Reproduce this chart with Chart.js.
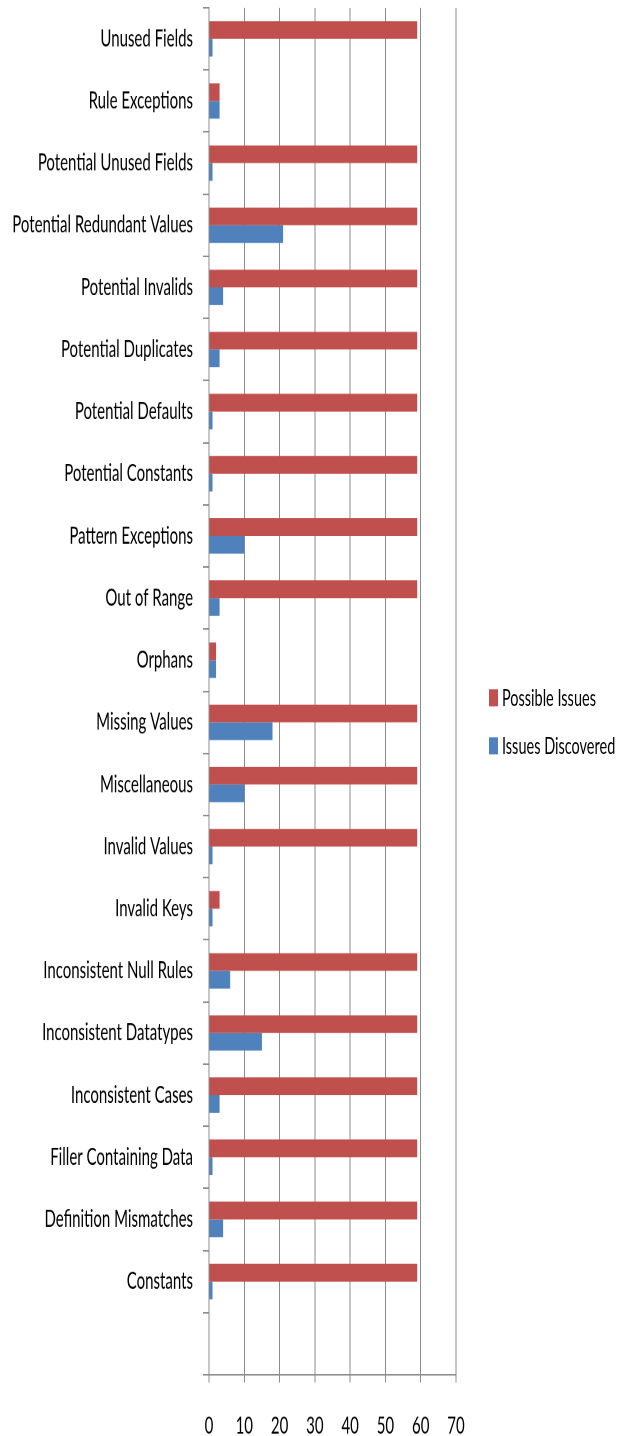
<!DOCTYPE html>
<html>
<head>
<meta charset="utf-8">
<script src="https://cdn.jsdelivr.net/npm/chart.js@4.4.1/dist/chart.umd.min.js"></script>
<style>
  html, body { margin: 0; padding: 0; background: #fff; }
  #outer { position: relative; width: 630px; height: 1436px; overflow: hidden; }
  #wrap { position: absolute; left: 0; top: 0; width: 630px; height: 927px; transform: scaleY(1.549); transform-origin: 0 0; }
  #legend { position: absolute; left: 489px; top: 440px; font-family: Lato, sans-serif; font-size: 14.5px; color: #000; }
  #legend .item { display: flex; align-items: center; height: 20px; margin-bottom: 11px; }
  #legend .box { width: 9px; height: 11px; margin-right: 4px; }
</style>
</head>
<body>
<div id="outer">
<div id="wrap">
  <canvas id="chart" width="630" height="927"></canvas>
  <div id="legend"></div>
</div>
</div>
<script>
const categories = ['Unused Fields', 'Rule Exceptions', 'Potential Unused Fields', 'Potential Redundant Values',
    'Potential Invalids', 'Potential Duplicates', 'Potential Defaults', 'Potential Constants',
    'Pattern Exceptions', 'Out of Range', 'Orphans', 'Missing Values', 'Miscellaneous',
    'Invalid Values', 'Invalid Keys', 'Inconsistent Null Rules', 'Inconsistent Datatypes',
    'Inconsistent Cases', 'Filler Containing Data', 'Definition Mismatches', 'Constants', ''];

const possible_issues = [59, 3, 59, 59, 59, 59, 59, 59, 59, 59, 2, 59, 59, 59, 3, 59, 59, 59, 59, 59, 59, null];
const issues_discovered = [1, 3, 1, 21, 4, 3, 1, 1, 10, 3, 2, 18, 10, 1, 1, 6, 15, 3, 1, 4, 1, null];

const series_names = ['Possible Issues', 'Issues Discovered'];
const series_colors = ['#C0504D', '#4F81BD'];

const grid_color = '#8c8c8c';
const font = { family: 'Lato', size: 15 };

// html legend, same order as the datasets
const legend = document.getElementById('legend');
series_names.forEach((name, i) => {
    const item = document.createElement('div');
    item.className = 'item';
    const box = document.createElement('span');
    box.className = 'box';
    box.style.background = series_colors[i];
    item.appendChild(box);
    item.appendChild(document.createTextNode(name));
    legend.appendChild(item);
});

function draw() {
    const ctx = document.getElementById('chart').getContext('2d');
    new Chart(ctx, {
        type: 'bar',
        data: {
            labels: categories,
            datasets: [
                { label: series_names[0], data: possible_issues, backgroundColor: series_colors[0] },
                { label: series_names[1], data: issues_discovered, backgroundColor: series_colors[1] }
            ]
        },
        options: {
            indexAxis: 'y',
            responsive: false,
            animation: false,
            devicePixelRatio: 2,
            categoryPercentage: 0.57,
            barPercentage: 1.0,
            layout: { padding: { top: 5, right: 174, bottom: 0, left: 0 } },
            plugins: {
                legend: { display: false },
                tooltip: { enabled: false }
            },
            scales: {
                x: {
                    min: 0, max: 70,
                    ticks: { stepSize: 10, padding: 19, color: '#000', font: font },
                    grid: { color: grid_color, tickLength: 5 },
                    border: { color: grid_color },
                    afterFit: scale => { scale.height = 39.5; }
                },
                y: {
                    ticks: { padding: 10, color: '#000', font: font, autoSkip: false },
                    grid: { color: grid_color, drawOnChartArea: false, tickLength: 6, offset: true },
                    border: { color: grid_color },
                    afterFit: scale => {
                        scale.width = 209;
                        scale.paddingTop = 0;
                        scale.paddingBottom = 0;
                    }
                }
            }
        }
    });
}

document.fonts.load('15px Lato').then(draw, draw);
</script>
</body>
</html>
